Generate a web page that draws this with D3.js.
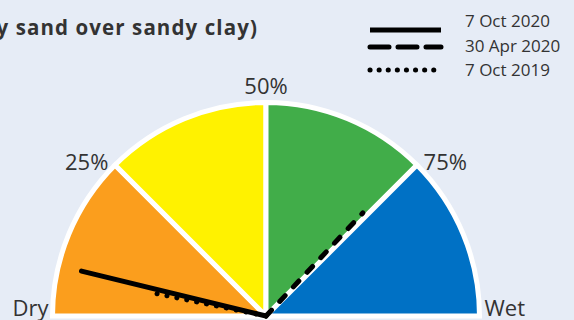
<!DOCTYPE html>
<html>
<head>
<meta charset="utf-8">
<script src="https://cdn.jsdelivr.net/npm/d3@7"></script>
<style>
  html, body { margin: 0; padding: 0; background: #e6ecf6; }
  svg { display: block; font-family: "Open Sans", sans-serif; }
</style>
</head>
<body>
<svg id="chart" width="574" height="320"></svg>
<script>
// Gauge bands (percent of available water)
const bandStarts = [0, 25, 50, 75];
const bandEnds = [25, 50, 75, 100];
const bandColors = ["#fb9e1d", "#fff200", "#41ad49", "#0071c5"];
const tickValues = [25, 50, 75];
const tickLabels = ["25%", "50%", "75%"];

// Readings shown as needles
const readingDates = ["7 Oct 2020", "30 Apr 2020", "7 Oct 2019"];
const readingValues = [7.6, 74, 6.4];

// Needle styling per reading
const needleStyle = [
  { len: 0.90, dash: null, legendDash: null },
  { len: 0.67, dash: "8,12", legendDash: "19,9" },
  { len: 0.55, dash: "0.1,10", legendDash: "0.1,9" }
];

const svg = d3.select("#chart");
const cx = 266, cy = 316;
const R = 213.5;
const ink = "#333333";

// title (second line of a heading; the left part runs off the canvas)
svg.append("text")
  .attr("x", 258).attr("y", 35)
  .attr("text-anchor", "end")
  .attr("font-size", 20.5).attr("font-weight", 700)
  .attr("letter-spacing", 1.1)
  .attr("fill", ink)
  .text("(loamy sand over sandy clay)");

// percent -> angle (radians, 0 = left, pi = right)
const angle = d3.scaleLinear().domain([0, 100]).range([-Math.PI / 2, Math.PI / 2]);

const g = svg.append("g").attr("transform", `translate(${cx},${cy})`);

const arc = d3.arc().innerRadius(0).outerRadius(R);
g.selectAll("path.band")
  .data(bandStarts.map((s, i) => ({ s, e: bandEnds[i], c: bandColors[i] })))
  .join("path")
  .attr("class", "band")
  .attr("d", d => arc({ startAngle: angle(d.s), endAngle: angle(d.e) }))
  .attr("fill", d => d.c)
  .attr("stroke", "#ffffff")
  .attr("stroke-width", 5)
  .attr("stroke-linejoin", "miter");

// tick labels around the rim
const labelR = R + 8;
tickValues.forEach((v, i) => {
  const a = angle(v);
  const x = labelR * Math.sin(a), y = -labelR * Math.cos(a);
  const t = g.append("text")
    .attr("font-size", 22).attr("fill", ink)
    .text(tickLabels[i]);
  if (v === 50) {
    t.attr("x", x).attr("y", y - 0.5).attr("text-anchor", "middle");
  } else {
    t.attr("x", x + (v < 50 ? -1 : 1)).attr("y", y + 1.5)
      .attr("text-anchor", v < 50 ? "end" : "start")
      .attr("dominant-baseline", "central");
  }
});

// end labels
g.append("text").attr("x", -R - 4).attr("y", 0)
  .attr("text-anchor", "end").attr("font-size", 22).attr("fill", ink).text("Dry");
g.append("text").attr("x", R + 5).attr("y", 0)
  .attr("text-anchor", "start").attr("font-size", 22).attr("fill", ink).text("Wet");

// needles
const fitR = R - 2.5;
g.selectAll("line.needle")
  .data(readingValues.map((v, i) => ({ v, s: needleStyle[i] })))
  .join("line")
  .attr("class", "needle")
  .attr("x1", 0).attr("y1", 0)
  .attr("x2", d => d.s.len * fitR * Math.sin(angle(d.v)))
  .attr("y2", d => -d.s.len * fitR * Math.cos(angle(d.v)))
  .attr("stroke", "#000")
  .attr("stroke-width", 5)
  .attr("stroke-linecap", "round")
  .attr("stroke-dasharray", d => d.s.dash);

// legend
const lx0 = 368, lx1 = 443, tx = 465;
const lineY = [30, 47, 70];
const textY = [20, 45, 69];
readingDates.forEach((d, i) => {
  svg.append("line")
    .attr("x1", lx0 + 2).attr("x2", lx1 - 2)
    .attr("y1", lineY[i]).attr("y2", lineY[i])
    .attr("stroke", "#000").attr("stroke-width", 5)
    .attr("stroke-linecap", i === 0 ? "butt" : "round")
    .attr("stroke-dasharray", needleStyle[i].legendDash);
  svg.append("text")
    .attr("x", tx).attr("y", textY[i])
    .attr("dominant-baseline", "central")
    .attr("font-size", 17).attr("fill", ink)
    .text(d);
});
</script>
</body>
</html>
